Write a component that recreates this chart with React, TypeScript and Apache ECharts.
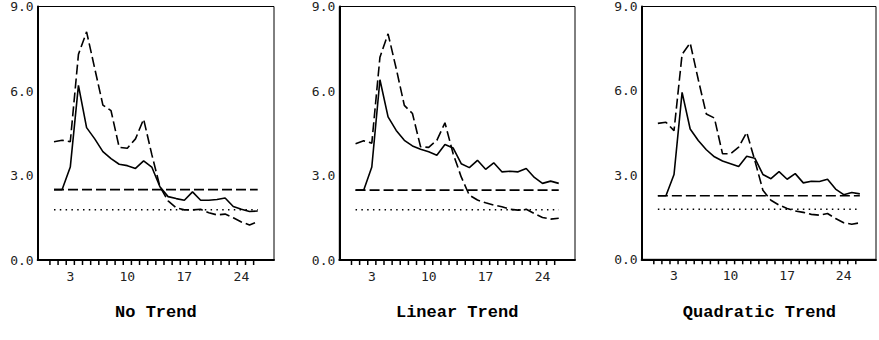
import React, { useEffect, useRef } from 'react';
import * as echarts from 'echarts';

// ---- data ----
const timePoints = [1, 2, 3, 4, 5, 6, 7, 8, 9, 10, 11, 12, 13, 14, 15, 16, 17, 18, 19, 20, 21, 22, 23, 24, 25, 26];
const tickPositions = [0.5, 1.5, 2.5, 3.5, 4.5, 5.5, 6.5, 7.5, 8.5, 9.5, 10.5, 11.5, 12.5, 13.5, 14.5, 15.5, 16.5, 17.5, 18.5, 19.5, 20.5, 21.5, 22.5, 23.5, 24.5, 25.5];
const xLabelValues = [3, 10, 17, 24];
const yTickValues = [0, 3, 6, 9];
const panelTitles = ['No Trend', 'Linear Trend', 'Quadratic Trend'];

const noTrendSolid = [2.5, 2.5, 3.3, 6.2, 4.7, 4.3, 3.85, 3.6, 3.4, 3.35, 3.25, 3.52, 3.3, 2.6, 2.25, 2.18, 2.12, 2.42, 2.12, 2.12, 2.15, 2.2, 1.9, 1.8, 1.72, 1.74];
const noTrendDashed = [4.2, 4.25, 4.2, 7.3, 8.1, 6.8, 5.5, 5.3, 4.0, 3.97, 4.3, 5.0, 3.75, 2.6, 2.1, 1.85, 1.78, 1.78, 1.8, 1.68, 1.6, 1.63, 1.5, 1.35, 1.24, 1.36];

const linearSolid = [2.48, 2.48, 3.3, 6.4, 5.08, 4.6, 4.25, 4.05, 3.93, 3.84, 3.72, 4.1, 3.98, 3.42, 3.28, 3.54, 3.22, 3.45, 3.13, 3.15, 3.13, 3.25, 2.93, 2.72, 2.8, 2.72];
const linearDashed = [4.13, 4.23, 4.15, 7.2, 8.03, 6.8, 5.49, 5.2, 4.02, 4.0, 4.25, 4.87, 3.78, 2.95, 2.3, 2.13, 2.03, 1.95, 1.89, 1.8, 1.77, 1.8, 1.65, 1.51, 1.45, 1.48];

const quadraticSolid = [2.26, 2.26, 3.02, 5.94, 4.64, 4.23, 3.9, 3.65, 3.5, 3.4, 3.3, 3.67, 3.6, 3.02, 2.87, 3.12, 2.85, 3.05, 2.72, 2.78, 2.77, 2.85, 2.5, 2.3, 2.38, 2.33];
const quadraticDashed = [4.84, 4.88, 4.58, 7.3, 7.7, 6.4, 5.17, 5.03, 3.76, 3.76, 3.99, 4.52, 3.52, 2.46, 2.1, 1.93, 1.81, 1.72, 1.67, 1.6, 1.57, 1.63, 1.45, 1.3, 1.25, 1.3];

const referenceDashedLevels = [2.5, 2.48, 2.26];
const referenceDottedLevels = [1.78, 1.78, 1.78];

const solidSeries = [noTrendSolid, linearSolid, quadraticSolid];
const dashedSeries = [noTrendDashed, linearDashed, quadraticDashed];

// ---- layout ----
const grids = [
  { left: 37.7, top: 6, width: 236.3, height: 254 },
  { left: 339.3, top: 6, width: 235.7, height: 254 },
  { left: 641.7, top: 5.3, width: 235.3, height: 254 },
];

const labelFont = '"DejaVu Sans Mono", monospace';

function buildOption() {
  const grid = grids.map((g) => ({
    ...g,
    show: true,
    borderColor: '#000',
    borderWidth: 1,
    backgroundColor: 'transparent',
    containLabel: false,
  }));

  const xAxis = grids.map((_, i) => ({
    type: 'value',
    gridIndex: i,
    min: -1,
    max: 28,
    interval: 1,
    axisLine: { show: true, onZero: false, lineStyle: { color: '#000', width: 2 } },
    axisTick: { show: false },
    splitLine: { show: false },
    axisLabel: {
      show: true,
      margin: 10,
      color: '#222',
      fontFamily: labelFont,
      fontSize: 13,
      showMinLabel: true,
      showMaxLabel: true,
      formatter: (v: number) => (xLabelValues.includes(v) ? String(v) : ''),
    },
  }));

  const yAxis = grids.map((_, i) => ({
    type: 'value',
    gridIndex: i,
    min: 0,
    max: 9,
    interval: 3,
    axisLine: { show: true, onZero: false, lineStyle: { color: '#000', width: 2 } },
    axisTick: { show: false },
    splitLine: { show: false },
    axisLabel: {
      show: true,
      margin: 4,
      color: '#222',
      fontFamily: labelFont,
      fontSize: 13,
      formatter: (v: number) => (yTickValues.includes(v) ? v.toFixed(1) : ''),
    },
  }));

  const series: any[] = [];
  grids.forEach((_, i) => {
    series.push({
      type: 'line',
      name: 'Estimate',
      xAxisIndex: i,
      yAxisIndex: i,
      data: timePoints.map((t, k) => [t, solidSeries[i][k]]),
      symbol: 'none',
      lineStyle: { color: '#000', width: 1.6, type: 'solid' },
    });
    series.push({
      type: 'line',
      name: 'Upper',
      xAxisIndex: i,
      yAxisIndex: i,
      data: timePoints.map((t, k) => [t, dashedSeries[i][k]]),
      symbol: 'none',
      lineStyle: { color: '#000', width: 1.6, type: [10, 4] },
    });
    series.push({
      type: 'line',
      name: 'Reference',
      xAxisIndex: i,
      yAxisIndex: i,
      data: [
        [timePoints[0], referenceDashedLevels[i]],
        [timePoints[timePoints.length - 1], referenceDashedLevels[i]],
      ],
      symbol: 'none',
      lineStyle: { color: '#000', width: 1.6, type: [10, 4] },
    });
    series.push({
      type: 'line',
      name: 'Baseline',
      xAxisIndex: i,
      yAxisIndex: i,
      data: [
        [timePoints[0], referenceDottedLevels[i]],
        [timePoints[timePoints.length - 1], referenceDottedLevels[i]],
      ],
      symbol: 'none',
      lineStyle: { color: '#000', width: 1.5, type: [1.5, 4.3] },
    });
    series.push({
      type: 'custom',
      name: 'ticks',
      xAxisIndex: i,
      yAxisIndex: i,
      clip: false,
      silent: true,
      data: tickPositions.map((t) => [t, 0]),
      renderItem: (params: any, api: any) => {
        const p = api.coord([api.value(0), 0]);
        return {
          type: 'line',
          shape: { x1: p[0], y1: p[1] + 1, x2: p[0], y2: p[1] + 5 },
          style: { stroke: '#000', lineWidth: 1.5 },
        };
      },
    });
  });

  const graphic = grids.map((g, i) => ({
    type: 'text',
    x: g.left + g.width / 2,
    y: 312,
    style: {
      text: panelTitles[i],
      font: 'bold 17px "Liberation Mono", monospace',
      fill: '#000',
      textAlign: 'center',
      textVerticalAlign: 'middle',
      align: 'center',
      verticalAlign: 'middle',
    },
  }));

  return {
    animation: false,
    backgroundColor: '#fff',
    grid,
    xAxis,
    yAxis,
    series,
    graphic,
  };
}

export default function App() {
  const ref = useRef<HTMLDivElement>(null);
  useEffect(() => {
    if (!ref.current) return;
    const chart = echarts.init(ref.current, undefined, { renderer: 'svg' });
    chart.setOption(buildOption() as any);
    return () => chart.dispose();
  }, []);
  return (
    <div
      ref={ref}
      style={{ position: 'fixed', left: 0, top: 0, width: 879, height: 340, background: '#fff' }}
    />
  );
}
